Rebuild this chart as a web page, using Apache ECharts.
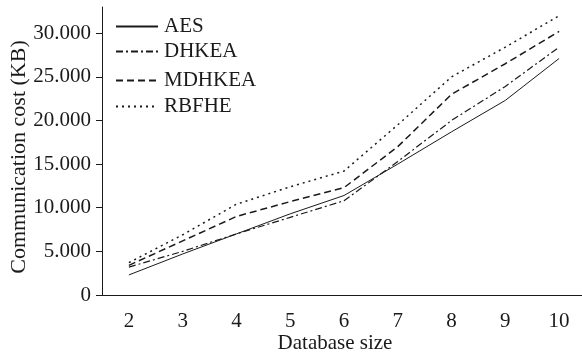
<!DOCTYPE html>
<html>
<head>
<meta charset="utf-8">
<script src="https://cdn.jsdelivr.net/npm/echarts@6/dist/echarts.min.js"></script>
<style>
  html,body{margin:0;padding:0;background:#fff;}
  #chart{width:582px;height:360px;}
</style>
</head>
<body>
<div id="chart"></div>
<script>
// database sizes
var categories = ['2','3','4','5','6','7','8','9','10'];
// communication cost, KB
var aes    = [2300, 4700, 7000, 9300, 11400, 15000, 18700, 22300, 27100];
var dhkea  = [3200, 5000, 7000, 8900, 10800, 15300, 20000, 23900, 28400];
var mdhkea = [3400, 6200, 9000, 10700, 12300, 17000, 23000, 26500, 30200];
var rbfhe  = [3700, 6900, 10400, 12400, 14200, 19500, 25000, 28400, 32000];
var seriesNames = ['AES','DHKEA','MDHKEA','RBFHE'];

var font = 'Liberation Serif';
var ink = '#1a1a1a';
var fs = 21;

var chart = echarts.init(document.getElementById('chart'));

function makeLine(name, data, type, width){
    return {
        type:'line',
        name:name,
        data:data,
        symbol:'none',
        showSymbol:false,
        lineStyle:{
            color:ink,
            width:width,
            type:type
        },
        itemStyle:{
            color:ink
        },
        animation:false
    }
}

function makeLegend(name, top){
    return {
        data:[name],
        left:110,
        top:top,
        orient:'vertical',
        itemWidth:42,
        itemHeight:14,
        itemGap:0,
        itemStyle:{
            opacity:0
        },
        textStyle:{
            fontFamily:font,
            fontSize:fs,
            color:ink,
            padding:[0,0,0,1]
        }
    }
}

var option = {
    backgroundColor:'#fff',
    animation:false,
    legend:[
        makeLegend(seriesNames[0], 11),
        makeLegend(seriesNames[1], 36),
        makeLegend(seriesNames[2], 65),
        makeLegend(seriesNames[3], 91)
    ],
    grid:{
        left:102,
        right:-4,
        top:7,
        bottom:65,
        containLabel:false,
        outerBoundsMode:'none'
    },
    xAxis:{
        type:'category',
        data:categories,
        boundaryGap:true,
        name:'Database size',
        nameLocation:'middle',
        nameGap:38,
        nameMoveOverlap:false,
        nameTextStyle:{
            fontFamily:font,
            fontSize:fs,
            color:ink,
            padding:[0,18,0,0]
        },
        axisLine:{
            lineStyle:{color:ink, width:1}
        },
        axisTick:{
            alignWithLabel:true,
            length:6,
            lineStyle:{color:ink}
        },
        axisLabel:{
            fontFamily:font,
            fontSize:fs,
            color:ink,
            margin:16
        }
    },
    yAxis:{
        type:'value',
        min:0,
        max:33000,
        interval:5000,
        name:'Communication cost (KB)',
        nameLocation:'middle',
        nameGap:72,
        nameMoveOverlap:false,
        nameTextStyle:{
            fontFamily:font,
            fontSize:22,
            color:ink,
            padding:[0,12,0,0]
        },
        axisLine:{
            show:true,
            lineStyle:{color:ink, width:1}
        },
        axisTick:{
            show:true,
            length:6,
            lineStyle:{color:ink}
        },
        axisLabel:{
            fontFamily:font,
            fontSize:fs,
            color:ink,
            margin:11,
            showMaxLabel:false,
            formatter:function(v){
                if(v === 0) return '0';
                if(v > 30000) return '';
                return (v/1000).toFixed(3);
            }
        },
        splitLine:{
            show:false
        }
    },
    series:[
        makeLine(seriesNames[0], aes, 'solid', 1),
        makeLine(seriesNames[1], dhkea, [7,3,2,3], 1.2),
        makeLine(seriesNames[2], mdhkea, [7,4], 1.5),
        makeLine(seriesNames[3], rbfhe, [2,4], 1.5)
    ]
};

chart.setOption(option);
</script>
</body>
</html>
